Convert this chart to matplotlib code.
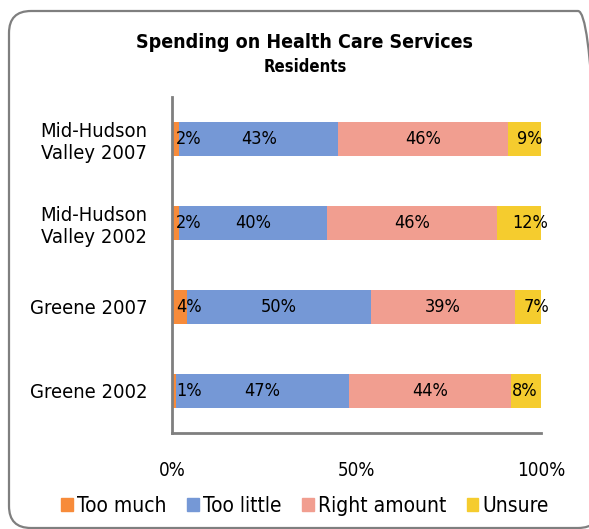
import matplotlib.pyplot as plt
import numpy as np
from matplotlib.patches import FancyBboxPatch, Patch
from matplotlib.transforms import IdentityTransform

W, H = 589, 529

categories = ['Mid-Hudson\nValley 2007', 'Mid-Hudson\nValley 2002', 'Greene 2007', 'Greene 2002']
series = ['Too much', 'Too little', 'Right amount', 'Unsure']
too_much = [2, 2, 4, 1]
too_little = [43, 40, 50, 47]
right_amount = [46, 46, 39, 44]
unsure = [9, 12, 7, 8]
colors = ['#F78B3A', '#7598D6', '#F19E90', '#F5CC2E']
x_ticks = [0, 50, 100]
x_tick_labels = ['0%', '50%', '100%']

plt.rcParams['font.family'] = 'DejaVu Sans'
plt.rcParams['font.stretch'] = 'condensed'

fig = plt.figure(figsize=(W / 100, H / 100), dpi=100)

# rounded frame around the whole chart, pixel coords (right side runs off the image)
frame = FancyBboxPatch((9, H - 528), 600 - 9, 528 - 11,
                       boxstyle='round,pad=0,rounding_size=22',
                       transform=IdentityTransform(), fill=False,
                       edgecolor='#7f7f7f', linewidth=1.6, zorder=0)
fig.patches.append(frame)

ax = fig.add_axes([172 / W, 1 - 433 / H, 369 / W, 336 / H])

vals = [too_much, too_little, right_amount, unsure]
y = np.arange(len(categories))
left = np.zeros(len(categories))
for v, c, name in zip(vals, colors, series):
    ax.barh(y, v, left=left, height=0.405, color=c, label=name)
    left = left + np.array(v)

# data labels
lab_kw = dict(va='center', ha='center', fontsize=13, color='black')
unsure_shift = [1.5, 3, 2.4, -0.4]
cum = np.zeros(len(categories))
for k, v in enumerate(vals):
    for i in range(len(categories)):
        if k == 0:
            xpos = 4.5
        else:
            xpos = cum[i] + v[i] / 2
            if k == 3:
                xpos += unsure_shift[i]
        ax.text(xpos, y[i], f'{v[i]}%', **lab_kw)
    cum = cum + np.array(v)

ax.set_xlim(0, 100)
ax.set_ylim(-0.5, len(categories) - 0.5)
ax.invert_yaxis()
ax.set_yticks(y)
ax.set_yticklabels(categories, fontsize=14.5, multialignment='center')
ax.set_xticks(x_ticks)
ax.set_xticklabels(x_tick_labels, fontsize=13.5)
ax.tick_params(axis='both', length=0)
ax.tick_params(axis='y', pad=18)
ax.tick_params(axis='x', pad=20)
for s in ['top', 'right']:
    ax.spines[s].set_visible(False)
for s in ['left', 'bottom']:
    ax.spines[s].set_color('#7f7f7f')
    ax.spines[s].set_linewidth(2)

fig.text(305 / W, 1 - 43 / H, 'Spending on Health Care Services', ha='center',
         va='center', fontsize=14, fontweight='bold')
fig.text(305 / W, 1 - 67.5 / H, 'Residents', ha='center', va='center',
         fontsize=12, fontweight='bold')

handles = [Patch(color=c) for c in colors]
fig.legend(handles, series, loc='center', bbox_to_anchor=(305 / W, 1 - 506 / H),
           ncol=4, frameon=False, fontsize=15, handlelength=0.55, handleheight=0.55,
           handletextpad=0.2, columnspacing=1.0)

fig.savefig('out.png', dpi=100)
